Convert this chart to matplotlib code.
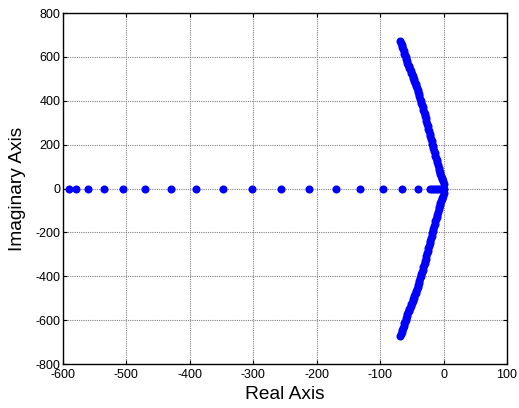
import matplotlib.pyplot as plt

plt.rcParams['font.family'] = ['Liberation Sans', 'DejaVu Sans']
plt.rcParams['axes.unicode_minus'] = False

# real-axis poles of the locus
real_axis = [-590, -579, -560, -536, -505, -470, -430, -391, -347, -302,
             -257, -212, -170, -132, -96, -65, -40, -22, -18, -15, -12,
             -9, -6, -3, -1, 0]

# upper complex branch (lower branch is its conjugate)
branch_re = [0, -1, -2, -3, -4, -5, -6, -7, -8, -9, -10, -11, -12, -13,
             -14, -15, -16, -17, -18, -19, -20, -21, -22, -23, -24, -25,
             -26, -27, -28, -29, -30, -31, -32, -33, -34, -35, -36, -37,
             -38, -39, -40, -41, -42, -43, -44, -45, -46, -47, -48, -49,
             -50, -51, -52, -53, -54, -55, -56, -57, -58, -59, -60, -61,
             -62, -63, -64, -65, -66, -67, -68]
branch_im = [20, 35, 45, 50, 55, 65, 75, 85, 95, 108, 120, 130, 140, 150,
             160, 172, 185, 195, 205, 215, 225, 238, 250, 260, 270, 283,
             295, 308, 320, 330, 340, 350, 360, 370, 380, 390, 400, 410,
             420, 430, 440, 450, 460, 468, 475, 483, 490, 498, 505, 513,
             520, 528, 535, 543, 550, 558, 565, 573, 580, 590, 600, 608,
             615, 625, 635, 645, 655, 663, 672]

fig = plt.figure(figsize=(5.19, 4.08), dpi=100)
ax = fig.add_axes([0.1214, 0.1078, 0.8555, 0.8603])

ax.plot(real_axis, [0] * len(real_axis), 'o', color='#0000ff', ms=5.8, mec='none')
ax.plot(branch_re, branch_im, 'o', color='#0000ff', ms=5.8, mec='none')
ax.plot(branch_re, [-v for v in branch_im], 'o', color='#0000ff', ms=5.8, mec='none')

ax.set_xlim(-600, 100)
ax.set_ylim(-800, 800)
ax.set_xticks(range(-600, 101, 100))
ax.set_yticks(range(-800, 801, 200))
ax.grid(True, color='#808080', linestyle=(0, (1, 1)), linewidth=0.8)
ax.set_axisbelow(True)
ax.tick_params(direction='in', length=3, top=True, right=True, labelsize=9)
ax.tick_params(axis='x', pad=3.5)
ax.tick_params(axis='y', pad=2)
for s in ax.spines.values():
    s.set_linewidth(1.0)

ax.set_xlabel('Real Axis', fontsize=13.8)
ax.set_ylabel('Imaginary Axis', fontsize=13.8)
ax.xaxis.set_label_coords(0.5, -0.062)
ax.yaxis.set_label_coords(-0.083, 0.5)

fig.savefig('out.png', dpi=100)
